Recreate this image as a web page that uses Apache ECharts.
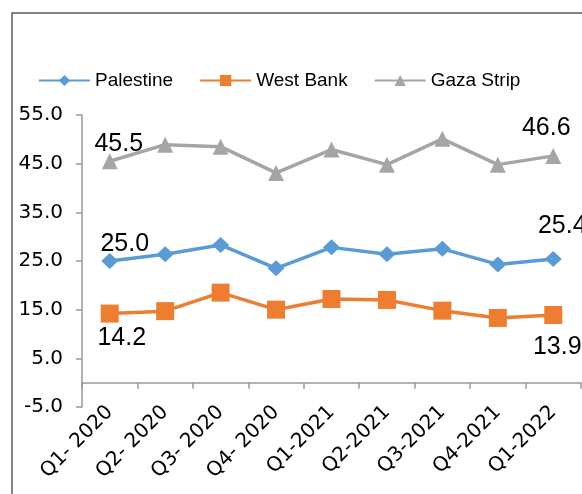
<!DOCTYPE html>
<html><head><meta charset="utf-8">
<script src="https://cdn.jsdelivr.net/npm/echarts@6/dist/echarts.min.js"></script>
<style>html,body{margin:0;padding:0;background:#fff}#c{width:582px;height:494px}</style>
</head><body><div id="c"></div>
<script>
const categories = ['Q1- 2020','Q2- 2020','Q3- 2020','Q4- 2020','Q1-2021','Q2-2021','Q3-2021','Q4-2021','Q1-2022'];
const palestine = [25.0, 26.4, 28.3, 23.5, 27.8, 26.4, 27.5, 24.3, 25.4];
const westBank = [14.2, 14.7, 18.5, 15.0, 17.2, 17.0, 14.8, 13.3, 13.9];
const gaza = [45.5, 48.9, 48.5, 43.1, 47.9, 44.8, 50.1, 44.8, 46.6];
const seriesNames = ['Palestine', 'West Bank', 'Gaza Strip'];
const yTicks = { min: -5, max: 55, interval: 10 };

const FONT = 'Liberation Sans, Arial, sans-serif';
const TICKFONT = 'DejaVu Sans, sans-serif';
function withLabels(arr, firstOff, lastOff) {
  return arr.map((v, i) => {
    if (i === 0 || i === arr.length - 1) {
      return { value: v, label: { show: true, position: 'inside', offset: i === 0 ? firstOff : lastOff,
        formatter: p => Number(p.value).toFixed(1), fontSize: 25, color: '#000', fontFamily: FONT } };
    }
    return v;
  });
}
const chart = echarts.init(document.getElementById('c'), null, { renderer: 'canvas' });
chart.setOption({
  animation: false,
  backgroundColor: '#fff',
  graphic: [{ type: 'rect', shape: { x: 12, y: 13, width: 800, height: 800 }, style: { fill: 'none', stroke: '#595959', lineWidth: 1.5 }, z: 100 }],
  legend: {
    left: 33, top: 66, itemWidth: 51, itemHeight: 14, itemGap: 26,
    textStyle: { fontSize: 19, color: '#000', fontFamily: FONT },
    data: seriesNames
  },
  grid: { left: 82, right: 1, top: 115, bottom: 87, containLabel: false, outerBoundsMode: 'none' },
  xAxis: {
    type: 'category', data: categories, boundaryGap: true,
    axisLine: { onZero: true, lineStyle: { color: '#999', width: 1.5 } },
    axisTick: { show: true, length: 6, lineStyle: { color: '#999', width: 1.5 } },
    axisLabel: { rotate: 45, interval: 0, margin: 2, fontSize: 20, color: '#000', fontFamily: TICKFONT },
    splitLine: { show: false }
  },
  yAxis: {
    type: 'value', min: yTicks.min, max: yTicks.max, interval: yTicks.interval,
    axisLine: { show: true, lineStyle: { color: '#999', width: 1.5 } },
    axisTick: { show: true, length: 6, lineStyle: { color: '#999', width: 1.5 } },
    axisLabel: { fontSize: 20, color: '#000', fontFamily: TICKFONT, margin: 19, formatter: v => v.toFixed(1) },
    splitLine: { show: false }
  },
  series: [
    { name: seriesNames[0], type: 'line', data: withLabels(palestine, [15, -17], [9, -33]), symbol: 'diamond', symbolSize: [17, 16],
      itemStyle: { color: '#5B9BD5' }, lineStyle: { width: 3.5, color: '#5B9BD5' } },
    { name: seriesNames[1], type: 'line', data: withLabels(westBank, [12, 25], [4, 32]), symbol: 'rect', symbolSize: 18,
      itemStyle: { color: '#ED7D31' }, lineStyle: { width: 3.5, color: '#ED7D31' } },
    { name: seriesNames[2], type: 'line', data: withLabels(gaza, [9, -17], [-7, -28]), symbol: 'triangle', symbolSize: [16, 16],
      itemStyle: { color: '#A5A5A5' }, lineStyle: { width: 3.5, color: '#A5A5A5' } }
  ]
});
</script></body></html>
